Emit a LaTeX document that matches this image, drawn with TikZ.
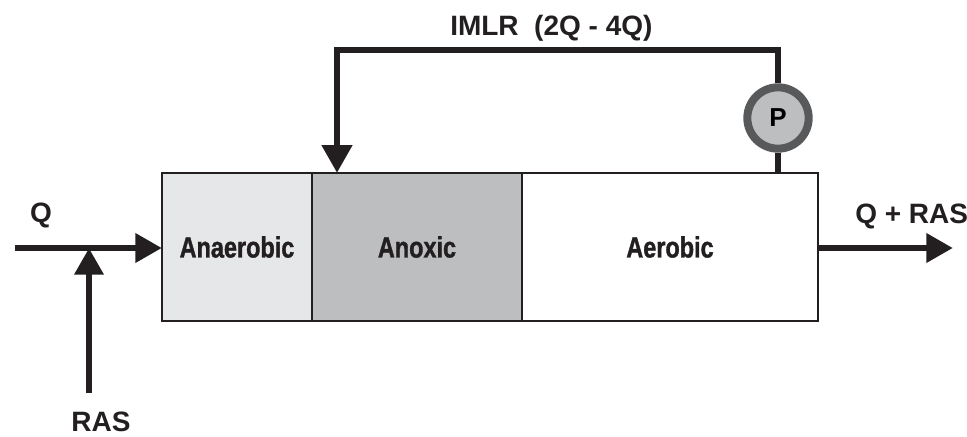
\documentclass[tikz,border=0pt]{standalone}
\usepackage{fontspec}
\setmainfont{Liberation Sans}
\newfontfamily\condbold[FakeStretch=0.8, FakeBold=1.2]{Liberation Sans Bold}
\usetikzlibrary{arrows.meta}
\definecolor{ink}{HTML}{231F20}
\definecolor{lightzone}{HTML}{E6E7E8}
\definecolor{midzone}{HTML}{BCBEC0}
\definecolor{ringgray}{HTML}{58595B}
\begin{document}
\begin{tikzpicture}[x=0.75pt,y=-0.75pt,
  zone/.style={draw=ink, line width=1.1pt, minimum height=111pt, inner sep=0pt, outer sep=0pt,
    font=\condbold\fontsize{22}{24}\selectfont, text=ink},
  lbl/.style={inner sep=0pt, font=\bfseries\fontsize{21}{24}\selectfont, text=ink},
  flow/.style={draw=ink, line width=5pt, -{Triangle[length=20pt,width=21pt]}},
  pipe/.style={draw=ink, line width=5pt, line join=miter},
]
\useasboundingbox (0,0) rectangle (967,436);

% reactor zones
\node[zone, fill=lightzone, minimum width=112.5pt] (anaer) at (237,247) {Anaerobic};
\node[zone, fill=midzone, minimum width=157.5pt] (anox) at (417,247) {Anoxic};
\node[zone, fill=white, minimum width=222pt] (aer) at (670,247) {Aerobic};

% pump
\node[circle, draw=ringgray, line width=6pt, fill=midzone, minimum size=46pt, inner sep=0pt,
  font=\bfseries\fontsize{19.5}{20}\selectfont, text=black] (pump) at (778,118) {P};

% free ends and corners
\coordinate (qin) at (15,248);
\coordinate (rasin) at (89,393);
\coordinate (qout) at (953,248);
\coordinate (tr) at (778,50);
\coordinate (tl) at (337,50);

% connectors
\draw[flow] (qin) -- (qin -| anaer.west);
\draw[flow] (rasin) -- (rasin |- qin);
\draw[flow] (aer.east |- qout) -- (qout);
\draw[pipe] (pump.south) -- (pump.south |- aer.north);
\draw[pipe, -{Triangle[length=21pt,width=22pt]}] (pump.north) -- (tr) -- (tl) -- (tl |- anox.north);

% labels
\node[lbl, anchor=base] (qlabel) at (41,222) {Q};
\node[lbl, anchor=base] (raslabel) at (101,431) {RAS};
\node[lbl, anchor=base west] (imlr) at (450,35) {IMLR\ \ (2Q - 4Q)};
\node[lbl, anchor=base west] (outlabel) at (855,223) {Q + RAS};
\end{tikzpicture}
\end{document}
